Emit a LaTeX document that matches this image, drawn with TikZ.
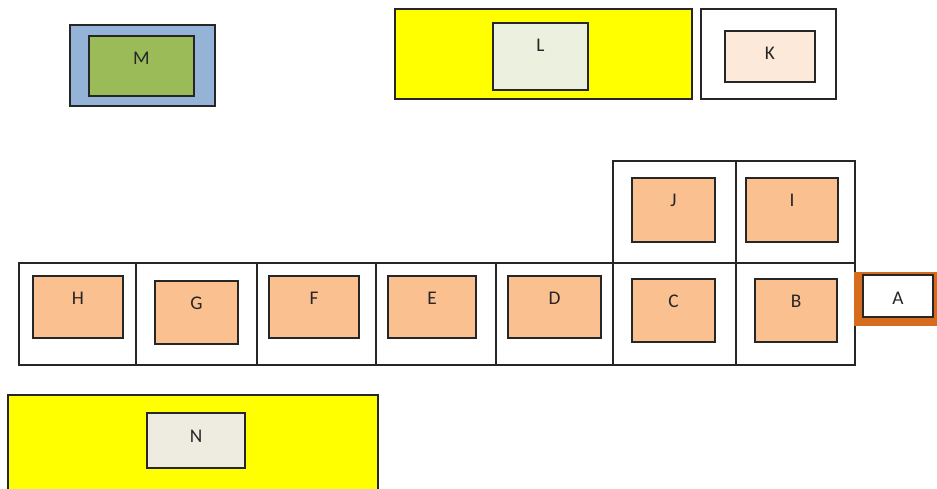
\documentclass[tikz,border=0pt]{standalone}
\usepackage{fontspec}
\setmainfont{Carlito}
\usetikzlibrary{positioning}
\definecolor{wallgray}{RGB}{38,38,38}
\definecolor{bluegray}{RGB}{149,179,215}
\definecolor{olivegreen}{RGB}{155,187,89}
\definecolor{paleyellow}{RGB}{255,255,0}
\definecolor{palegreen}{RGB}{235,241,222}
\definecolor{palepeach}{RGB}{253,233,217}
\definecolor{peach}{RGB}{250,192,144}
\definecolor{burnt}{RGB}{216,108,30}
\definecolor{paper}{RGB}{238,236,225}
\tikzset{
  wall/.style={draw=wallgray, line width=0.7pt},
  roomlbl/.style={font=\fontsize{11}{13}\selectfont, text=wallgray, inner sep=0pt}
}

\begin{document}
\begin{tikzpicture}[x=0.02cm, y=-0.02cm]
\useasboundingbox (0,0) rectangle (937,488);

% top row
\draw[wall, fill=bluegray] (70,25) rectangle (215,106);
\draw[wall, fill=olivegreen] (89,36) rectangle (194,96);
\node[roomlbl] (lblM) at (141.5,58) {M};

\draw[wall, fill=paleyellow] (395,9) rectangle (692,99);
\draw[wall, fill=palegreen] (493,23) rectangle (588,90);
\node[roomlbl] (lblL) at (540.5,45) {L};

\draw[wall, fill=white] (701,9) rectangle (836,99);
\draw[wall, fill=palepeach] (725,31) rectangle (815,82);
\node[roomlbl] (lblK) at (770,53) {K};

% cells
\draw[wall] (613,161) rectangle (736,263);
\draw[wall] (736,161) rectangle (855,263);
\foreach \xa/\xb in {19/136, 136/257, 257/376, 376/496, 496/613, 613/736, 736/855}
  \draw[wall] (\xa,263) rectangle (\xb,365);

\foreach \xa/\xb/\ya/\yb/\nm in {632/715/178/242/J, 746/838/178/242/I,
    33/123/276/338/H, 155/238/281/344/G, 269/359/276/338/F,
    388/476/276/338/E, 508/601/276/338/D, 632/715/279/342/C, 755/837/279/342/B}
{
  \draw[wall, fill=peach] (\xa,\ya) rectangle (\xb,\yb);
  \node[roomlbl] (lbl\nm) at ({(\xa+\xb)/2},{\ya+22}) {\nm};
}

% entrance
\fill[burnt] (854,272) rectangle (940,326);
\draw[wall, fill=white] (863,275) rectangle (933,317);
\node[roomlbl] (lblA) at (898,298) {A};

% bottom
\draw[wall, fill=paleyellow] (8,395) rectangle (378,492);
\draw[wall, fill=paper] (147,413) rectangle (245,468);
\node[roomlbl] (lblN) at (196,436) {N};
\end{tikzpicture}
\end{document}
